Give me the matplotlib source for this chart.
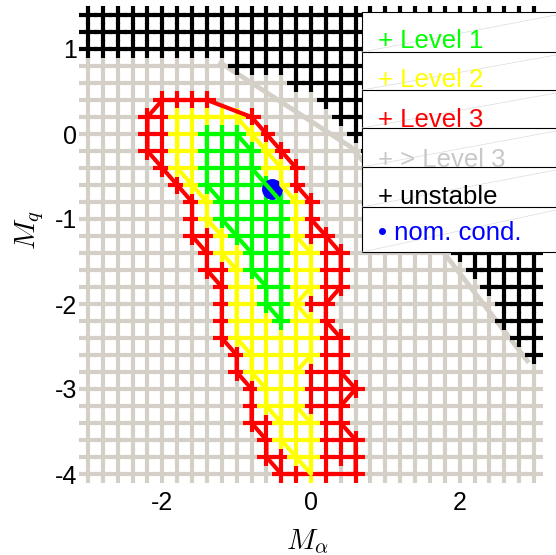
import numpy as np
import matplotlib
matplotlib.use("Agg")
import matplotlib.pyplot as plt
from matplotlib.patches import Rectangle

plt.rcParams['font.family'] = ['Liberation Sans', 'DejaVu Sans']
plt.rcParams['mathtext.fontset'] = 'cm'
plt.rcParams['axes.unicode_minus'] = False

# Sampled pitch-derivative grid: columns are M_alpha, rows are M_q
m_alpha = [-3.0, -2.8, -2.6, -2.4, -2.2, -2.0, -1.8, -1.6, -1.4, -1.2, -1.0,
           -0.8, -0.6, -0.4, -0.2, 0.0, 0.2, 0.4, 0.6, 0.8, 1.0,
           1.2, 1.4, 1.6, 1.8, 2.0, 2.2, 2.4, 2.6, 2.8, 3.0]
m_q = [1.4, 1.2, 1.0, 0.8, 0.6, 0.4, 0.2, 0.0, -0.2, -0.4, -0.6, -0.8, -1.0, -1.2,
       -1.4, -1.6, -1.8, -2.0, -2.2, -2.4, -2.6, -2.8, -3.0, -3.2, -3.4, -3.6,
       -3.8, -4.0]

# Handling-qualities class of every grid point (one string per M_q row):
# '1' Level 1, '2' Level 2, '3' Level 3, '.' worse than Level 3, 'k' unstable
hq_class = [
    "kkkkk kkkkk kkkkk kkkkk kkkkk kkkkk k",
    "kkkkk kkkkk kkkkk kkkkk kkkkk kkkkk k",
    "kkkkk kkkkk kkkkk kkkkk kkkkk kkkkk k",
    "..... ..... kkkkk kkkkk kkkkk kkkkk k",
    "..... ..... ....k kkkkk kkkkk kkkkk k",
    "..... 3333. ..... .kkkk kkkkk kkkkk k",
    "....3 32222 23... ..kkk kkkkk kkkkk k",
    "....3 32211 123.. ...kk kkkkk kkkkk k",
    "....3 32211 1123. ....k kkkkk kkkkk k",
    "..... 32211 11223 ..... kkkkk kkkkk k",
    "..... .3211 11123 ..... .kkkk kkkkk k",
    "..... ..321 11112 3.... ..kkk kkkkk k",
    "..... ..321 11112 3.... ...kk kkkkk k",
    "..... ..332 11112 33... ....k kkkkk k",
    "..... ...32 21112 233.. ..... kkkkk k",
    "..... ...33 21112 233.. ..... .kkkk k",
    "..... ....3 22112 233.. ..... ..kkk k",
    "..... ....3 22112 33... ..... ...kk k",
    "..... ....3 22212 23... ..... ...kk k",
    "..... ....3 22222 233.. ..... ....k k",
    "..... ..... 32222 233.. ..... ..... k",
    "..... ..... 32222 333.. ..... ..... .",
    "..... ..... .3222 3333. ..... ..... .",
    "..... ..... .3222 333.. ..... ..... .",
    "..... ..... .3322 233.. ..... ..... .",
    "..... ..... ..322 2333. ..... ..... .",
    "..... ..... ..332 2333. ..... ..... .",
    "..... ..... ...33 23.3. ..... ..... .",
]

# Nominal flight condition
nominal_alpha = [-0.53]
nominal_q = [-0.65]

# Stability boundary curve
stab_alpha = [-1.24, 0.53, 1.79, 2.93]
stab_q = [0.85, -0.15, -1.40, -2.69]

GRAY = '#d4d0c8'
colors = {'1': '#00ff00', '2': '#ffff00', '3': '#ff0000', '.': GRAY, 'k': '#000000'}

grid = [row.replace(" ", "") for row in hq_class]
ma = np.array(m_alpha)
mq = np.array(m_q)


def points_of(cls):
    xs, ys = [], []
    for r, row in enumerate(grid):
        for c, ch in enumerate(row):
            if ch == cls:
                xs.append(ma[c])
                ys.append(mq[r])
    return xs, ys


def outline(allowed):
    rights, lefts = [], []
    for r, row in enumerate(grid):
        idx = [c for c, ch in enumerate(row) if ch in allowed]
        if idx:
            lefts.append((ma[min(idx)], mq[r]))
            rights.append((ma[max(idx)], mq[r]))
    path = rights + lefts[::-1] + [rights[0]]
    return [p[0] for p in path], [p[1] for p in path]


W, H = 556, 555
fig = plt.figure(figsize=(W / 100, H / 100), dpi=100)
fig.patch.set_facecolor('white')
ax = fig.add_axes([88 / W, (H - 474) / H, 446 / W, 459 / H])
ax.set_xlim(-3, 3)
ax.set_ylim(-4, 1.4)
ax.set_axisbelow(True)
for s in ax.spines.values():
    s.set_visible(False)

mk = dict(linestyle='none', marker='+', ms=12.8, mew=3.0, clip_on=False)

x, y = points_of('.')
ax.plot(x, y, color=GRAY, zorder=2.0, **mk)
ax.plot(stab_alpha, stab_q, color=GRAY, lw=3.5, zorder=2.1, clip_on=False,
        solid_capstyle='butt')
x, y = points_of('k')
ax.plot(x, y, color='black', zorder=2.2, **mk)
for cls, z in [('3', 3.0), ('2', 3.1), ('1', 3.2)]:
    x, y = points_of(cls)
    ax.plot(x, y, color=colors[cls], zorder=z, **mk)

ax.plot(nominal_alpha, nominal_q, linestyle='none', marker='o', ms=14,
        color='#0000ff', zorder=3.5, clip_on=False)

for allowed, cls, z in [('123', '3', 4.0), ('12', '2', 4.1), ('1', '1', 4.2)]:
    ox, oy = outline(allowed)
    ax.plot(ox, oy, color=colors[cls], lw=3.0, zorder=z, clip_on=False,
            solid_joinstyle='round')

ax.set_xticks([-2, 0, 2])
ax.set_yticks([-4, -3, -2, -1, 0, 1])
ax.tick_params(axis='both', direction='in', length=5, width=0.8, labelsize=18)
ax.tick_params(axis='x', pad=12)
ax.tick_params(axis='y', pad=8)

# Overlay in pixel coordinates for the axis labels and the legend
lax = fig.add_axes([0, 0, 1, 1], zorder=10)
lax.set_xlim(0, W)
lax.set_ylim(H, 0)
lax.axis('off')
lax.patch.set_alpha(0)

lax.text(307, 542, r'$M_\alpha$', fontsize=21, ha='center', va='center')
lax.text(30, 230, r'$M_q$', fontsize=21, ha='center', va='center', rotation=90)

legend_lines = [12, 52, 90, 128, 167, 207, 252]
lax.add_patch(Rectangle((362, 12), 210, 240, facecolor='white',
                        edgecolor='black', lw=0.8, clip_on=False))
for yy in legend_lines[1:-1]:
    lax.plot([362, 572], [yy, yy], color='black', lw=0.8, clip_on=False)
for top, bot in zip(legend_lines[:-1], legend_lines[1:]):
    lax.plot([362, 556], [bot, top + 3], color='#dcdcdc', lw=0.5, clip_on=False)

entries = [('+ Level 1', '#00ff00'), ('+ Level 2', '#ffff00'),
           ('+ Level 3', '#ff0000'), ('+ > Level 3', '#c8c8c8'),
           ('+ unstable', '#000000'), ('\u2022 nom. cond.', '#0000ff')]
baselines = [48, 87, 127, 167, 204, 240]
for (label, c), yb in zip(entries, baselines):
    lax.text(378, yb, label, color=c, fontsize=18.5, ha='left', va='baseline')

fig.savefig('out.png', dpi=100, facecolor='white')
